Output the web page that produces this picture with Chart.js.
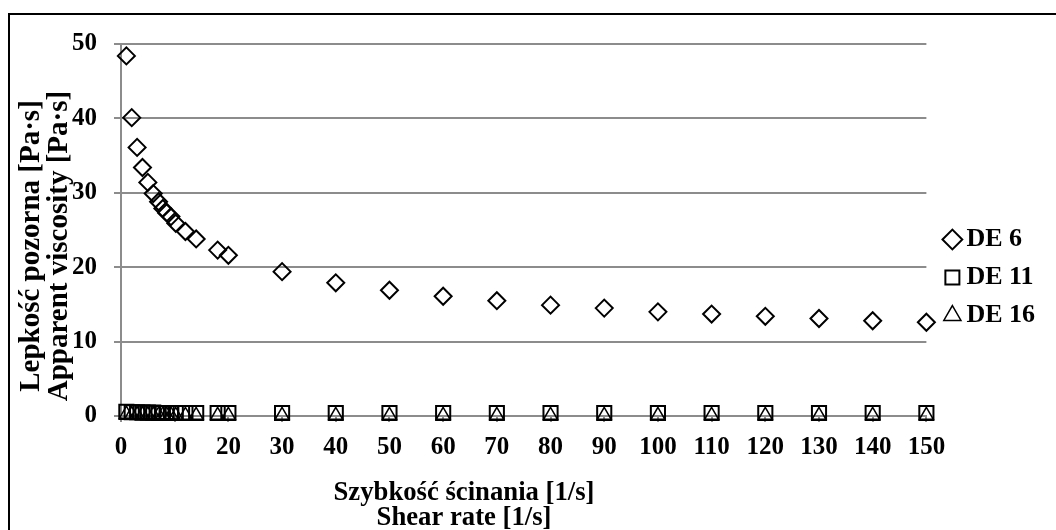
<!DOCTYPE html>
<html lang="pl">
<head>
  <meta charset="UTF-8">
  <title>Lepkość pozorna</title>
  <script src="https://cdn.jsdelivr.net/npm/chart.js"></script>
  <style>
    html, body { margin: 0; padding: 0; background: #fff; }
  </style>
</head>
<body>
  <canvas id="viscChart" width="1056" height="530"></canvas>

  <script>
    // shear rate [1/s], shared by all three samples
    const shearRate = [1, 2, 3, 4, 5, 6, 7, 7.8, 8.5, 9.3, 10.2, 12, 14, 18, 20,
                       30, 40, 50, 60, 70, 80, 90, 100, 110, 120, 130, 140, 150];
    // apparent viscosity [Pa·s]
    const de6 = [48.4, 40.1, 36.1, 33.4, 31.4, 29.9, 28.8, 27.9, 27.3, 26.8, 25.9, 24.8, 23.8, 22.3, 21.6,
                 19.4, 17.9, 16.9, 16.1, 15.5, 14.9, 14.5, 14.0, 13.7, 13.4, 13.1, 12.8, 12.6];
    const de11 = [0.55, 0.5, 0.5, 0.45, 0.45, 0.45, 0.4, 0.4, 0.4, 0.4, 0.4, 0.4, 0.4, 0.4, 0.4,
                  0.4, 0.4, 0.4, 0.4, 0.4, 0.4, 0.4, 0.4, 0.4, 0.4, 0.4, 0.4, 0.4];
    const de16 = [0.25, 0.2, 0.2, 0.2, 0.15, 0.15, 0.15, 0.15, 0.15, 0.15, 0.1, 0.1, 0.1, 0.1, 0.1,
                  0.1, 0.1, 0.1, 0.1, 0.1, 0.1, 0.1, 0.1, 0.1, 0.1, 0.1, 0.1, 0.1];
    const seriesNames = ['DE 6', 'DE 11', 'DE 16'];
    const yTitle = ['Lepkość pozorna [Pa·s]', 'Apparent viscosity [Pa·s]'];
    const xTitle = ['Szybkość ścinania [1/s]', 'Shear rate [1/s]'];

    const serif = '"Liberation Serif", "Times New Roman", serif';
    const gridGrey = '#8c8c8c';
    const tickFont = { family: serif, size: 25, weight: 'bold' };

    const toPoints = ys => ys.map((y, i) => ({x: shearRate[i], y: y}));

    // frame around the figure + the two axis titles (they overlap the ticks like in the original)
    const framePlugin = {
      id: 'frame',
      beforeDraw(chart) {
        const ctx = chart.ctx;
        ctx.save();
        ctx.fillStyle = '#fff';
        ctx.fillRect(0, 0, chart.width, chart.height);
        ctx.restore();
      },
      afterDraw(chart) {
        const ctx = chart.ctx;
        ctx.save();
        ctx.strokeStyle = '#000';
        ctx.lineWidth = 2;
        ctx.strokeRect(9, 14, 1100, 600);

        ctx.fillStyle = '#000';
        ctx.textAlign = 'center';
        ctx.textBaseline = 'middle';
        ctx.font = 'bold 26.7px ' + serif;
        ctx.fillText(xTitle[0], 464, 493);
        ctx.fillText(xTitle[1], 464, 518);

        ctx.font = 'bold 29px ' + serif;
        ctx.translate(32, 246);
        ctx.rotate(-Math.PI / 2);
        ctx.fillText(yTitle[0], 0, 0);
        ctx.fillText(yTitle[1], 0, 28);
        ctx.restore();
      }
    };

    const ctx = document.getElementById('viscChart').getContext('2d');
    new Chart(ctx, {
      type: 'scatter',
      data: {
        datasets: [
          {
            label: seriesNames[0],
            data: toPoints(de6),
            pointStyle: 'rectRot',
            pointRadius: 8.5,
            borderWidth: 2,
            borderColor: '#000',
            backgroundColor: 'rgba(0,0,0,0)',
            clip: false
          },
          {
            label: seriesNames[1],
            data: toPoints(de11),
            pointStyle: 'rect',
            pointRadius: 10,
            borderWidth: 2,
            borderColor: '#000',
            backgroundColor: 'rgba(0,0,0,0)',
            clip: false
          },
          {
            label: seriesNames[2],
            data: toPoints(de16),
            pointStyle: 'triangle',
            pointRadius: 8,
            borderWidth: 1.5,
            borderColor: '#000',
            backgroundColor: 'rgba(0,0,0,0)',
            clip: false
          }
        ]
      },
      options: {
        responsive: false,
        animation: false,
        devicePixelRatio: 1,
        layout: { padding: { top: 44, bottom: 19, left: 0, right: 11 } },
        plugins: {
          tooltip: { enabled: false },
          legend: {
            position: 'right',
            labels: {
              usePointStyle: true,
              boxWidth: 2,
              boxHeight: 14,
              padding: 12,
              color: '#000',
              font: { family: serif, size: 26, weight: 'bold' }
            }
          }
        },
        scales: {
          x: {
            type: 'linear',
            min: 0,
            max: 150,
            afterFit(scale) { scale.height = 95; },
            ticks: {
              stepSize: 10,
              padding: 11,
              maxRotation: 0,
              color: '#000',
              font: tickFont
            },
            grid: { drawOnChartArea: false, drawTicks: true, tickLength: 6, color: gridGrey, lineWidth: 2 },
            border: { display: true, color: gridGrey, width: 2 }
          },
          y: {
            min: 0,
            max: 50,
            afterFit(scale) { scale.width = 121; },
            ticks: {
              stepSize: 10,
              padding: 17,
              color: '#000',
              font: tickFont
            },
            grid: { color: gridGrey, lineWidth: 2, tickLength: 7 },
            border: { display: true, color: gridGrey, width: 2 }
          },
          // empty spacer between plot area and legend
          gap: {
            type: 'linear',
            position: 'right',
            afterFit(scale) { scale.width = 13; },
            ticks: { display: false },
            grid: { display: false },
            border: { display: false }
          }
        }
      },
      plugins: [framePlugin]
    });
  </script>
</body>
</html>
